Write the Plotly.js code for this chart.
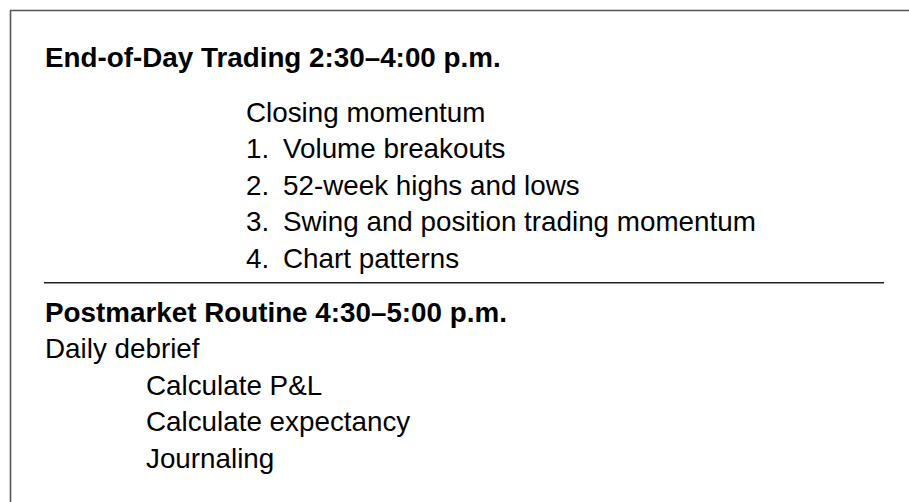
<!DOCTYPE html>
<html>
<head>
<meta charset="utf-8">
<script src="https://cdn.plot.ly/plotly-3.0.1.min.js"></script>
<style>html,body{margin:0;padding:0;background:#fff;}#chart{width:909px;height:502px;}</style>
</head>
<body>
<div id="chart"></div>
<script>
// ---- content ----
const sectionTitles = ["End-of-Day Trading 2:30\u20134:00 p.m.", "Postmarket Routine 4:30\u20135:00 p.m."];
const closingHeader = "Closing momentum";
const closingNumbers = ["1.", "2.", "3.", "4."];
const closingItems = ["Volume breakouts", "52-week highs and lows", "Swing and position trading momentum", "Chart patterns"];
const debriefHeader = "Daily debrief";
const debriefItems = ["Calculate P&L", "Calculate expectancy", "Journaling"];

// ---- layout helpers ----
const FS = 27.8;
const FONT = "Liberation Sans, Arial, Helvetica, sans-serif";
const LINE = 36.5;
const BASE_SHIFT = 0.3465 * FS; // baseline -> box middle

const ann = [];
function addText(txt, x, baseline, bold) {
  ann.push({
    text: txt, x: x, y: baseline - BASE_SHIFT, xref: 'x', yref: 'y',
    xanchor: 'left', yanchor: 'middle', showarrow: false, borderpad: 0,
    font: {family: FONT, size: FS, color: '#000', weight: bold ? 700 : 400}
  });
}

// top section
addText(sectionTitles[0], 44, 67, true);
addText(closingHeader, 245, 122, false);
closingItems.forEach((it, i) => {
  const b = 122 + (i + 1) * LINE;
  addText(closingNumbers[i], 245, b, false);
  addText(it, 282, b, false);
});

// bottom section
addText(sectionTitles[1], 44, 322, true);
addText(debriefHeader, 44, 322 + LINE, false);
debriefItems.forEach((it, i) => {
  addText(it, 145, 322 + (i + 2) * LINE, false);
});

const shapes = [
  {type: 'line', xref: 'x', yref: 'y', x0: 10, x1: 909, y0: 10.5, y1: 10.5, line: {color: '#555', width: 1.6}},
  {type: 'line', xref: 'x', yref: 'y', x0: 10.5, x1: 10.5, y0: 10, y1: 502, line: {color: '#555', width: 1.6}},
  {type: 'line', xref: 'x', yref: 'y', x0: 44, x1: 884, y0: 282.7, y1: 282.7, line: {color: '#222', width: 1.4}}
];

const layout = {
  width: 909, height: 502,
  margin: {l: 0, r: 0, t: 0, b: 0, pad: 0},
  paper_bgcolor: '#fff', plot_bgcolor: '#fff',
  xaxis: {range: [0, 909], visible: false, fixedrange: true},
  yaxis: {range: [502, 0], visible: false, fixedrange: true},
  showlegend: false,
  annotations: ann,
  shapes: shapes
};

Plotly.newPlot('chart', [{x: [], y: [], type: 'scatter', hoverinfo: 'skip'}], layout, {displayModeBar: false, staticPlot: true});
</script>
</body>
</html>
